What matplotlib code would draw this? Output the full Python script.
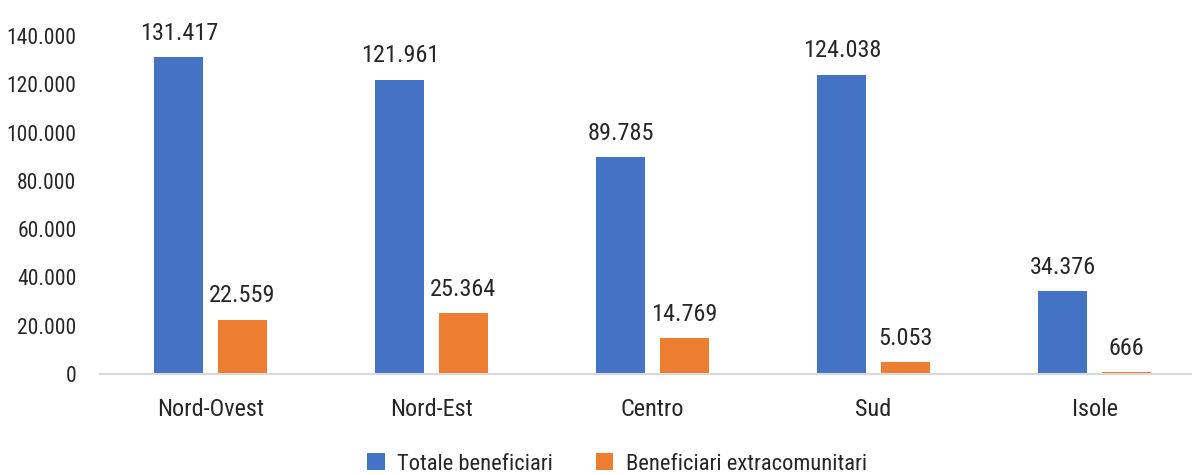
import numpy as np
import matplotlib.pyplot as plt
from matplotlib import font_manager

# area geografiche e beneficiari
aree = ['Nord-Ovest', 'Nord-Est', 'Centro', 'Sud', 'Isole']
totale = [131417, 121961, 89785, 124038, 34376]
extracom = [22559, 25364, 14769, 5053, 666]
yticks = [0, 20000, 40000, 60000, 80000, 100000, 120000, 140000]

names = {f.name for f in font_manager.fontManager.ttflist}
for fam in ['Liberation Sans Narrow', 'Roboto Condensed', 'DejaVu Sans']:
    if fam in names:
        plt.rcParams['font.family'] = fam
        break


def fmt(v):
    return f'{v:,}'.replace(',', '.')


fig = plt.figure(figsize=(11.92, 4.75), dpi=100)
ax = fig.add_axes([100 / 1192, 1 - 374 / 475, 1105 / 1192, 338 / 475])

x = np.arange(len(aree))
w = 0.222
off = 0.143
b1 = ax.bar(x - off, totale, w, color='#4472C4', label='Totale beneficiari')
b2 = ax.bar(x + off, extracom, w, color='#ED7D31', label='Beneficiari extracomunitari')

for bars, vals in ((b1, totale), (b2, extracom)):
    for r, v in zip(bars, vals):
        ax.text(r.get_x() + r.get_width() / 2, v + 5000, fmt(v),
                ha='center', va='bottom', fontsize=17.5, color='#262626', clip_on=False)

ax.set_xlim(-0.5, len(aree) - 0.5)
ax.set_ylim(0, 140000)
ax.set_yticks(yticks)
ax.set_yticklabels([fmt(t) for t in yticks])
ax.set_xticks(x)
ax.set_xticklabels(aree)
ax.tick_params(axis='both', length=0, labelcolor='#262626')
ax.tick_params(axis='x', pad=17, labelsize=17.5)
ax.tick_params(axis='y', pad=17, labelsize=15.5)
for s in ['top', 'right', 'left']:
    ax.spines[s].set_visible(False)
ax.spines['bottom'].set_color('#D9D9D9')
ax.spines['bottom'].set_linewidth(1.5)

fig.legend(loc='center', bbox_to_anchor=(617 / 1192, 1 - 464 / 475), ncol=2, frameon=False,
           fontsize=16.2, handlelength=0.78, handleheight=0.78, handletextpad=0.55,
           columnspacing=1.9, labelcolor='#262626')

fig.savefig('out.png', dpi=100)
